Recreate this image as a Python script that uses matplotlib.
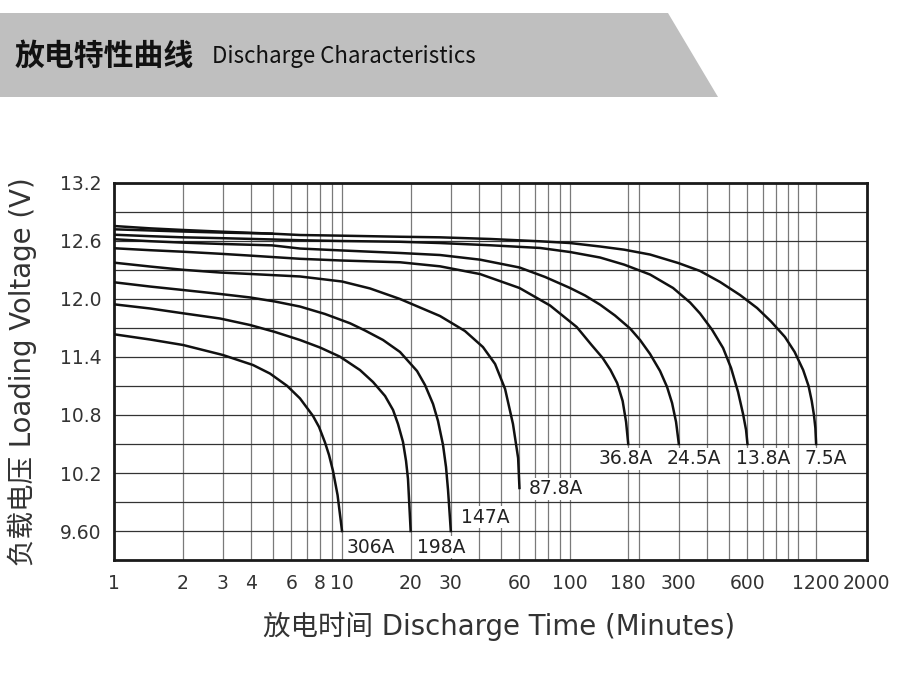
import matplotlib
matplotlib.use("Agg")
import matplotlib.pyplot as plt
from matplotlib.patches import Polygon
from matplotlib.ticker import NullFormatter

# ---------------- text ----------------
title_cn = "放电特性曲线"
title_en = "Discharge Characteristics"
x_label = "放电时间 Discharge Time (Minutes)"
y_label = "负载电压 Loading Voltage (V)"

# ---------------- axes ticks / grid ----------------
x_tick_values = [1, 2, 3, 4, 6, 8, 10, 20, 30, 60, 100, 180, 300, 600, 1200, 2000]
x_tick_labels = ["1", "2", "3", "4", "6", "8", "10", "20", "30", "60", "100",
                 "180", "300", "600", "1200", "2000"]
x_grid_extra = [5, 7, 9, 40, 50, 70, 80, 90, 200, 400, 500, 700, 800, 900, 1000]
y_tick_values = [9.6, 10.2, 10.8, 11.4, 12.0, 12.6, 13.2]
y_tick_labels = ["9.60", "10.2", "10.8", "11.4", "12.0", "12.6", "13.2"]
y_grid_extra = [9.9, 10.5, 11.1, 11.7, 12.3, 12.9]

# ---------------- discharge curves (time in minutes, voltage in V) ----------------
t_306 = [1, 1.438, 2.01, 3.0, 4.07, 4.83, 5.74, 6.54, 7.46, 7.93, 8.42, 8.77, 9.13, 9.56, 10]
v_306 = [11.635, 11.581, 11.524, 11.421, 11.317, 11.229, 11.102, 10.972, 10.79, 10.676,
         10.516, 10.386, 10.221, 9.972, 9.60]

t_198 = [1, 1.438, 2.01, 2.92, 3.95, 5.08, 6.54, 8.01, 9.80, 11.99, 13.68, 15.44, 16.74,
         17.6, 18.51, 19.09, 19.47, 20]
v_198 = [11.945, 11.902, 11.852, 11.798, 11.731, 11.659, 11.576, 11.498, 11.403, 11.265,
         11.141, 10.997, 10.852, 10.707, 10.521, 10.324, 10.138, 9.60]

t_147 = [1, 1.438, 2.01, 2.92, 3.95, 5.08, 6.54, 8.42, 10.84, 12.62, 15.13, 17.96, 21.33,
         23.12, 25.07, 26.36, 27.73, 28.58, 29.17, 30]
v_147 = [12.173, 12.129, 12.093, 12.052, 12.016, 11.974, 11.922, 11.845, 11.749, 11.674,
         11.576, 11.452, 11.255, 11.11, 10.914, 10.738, 10.49, 10.262, 10.024, 9.60]

t_878 = [1, 1.438, 2.01, 2.92, 3.95, 6.54, 10, 13.27, 17.96, 26.9, 34.6, 41.5, 46.9, 51.9,
         56.2, 59.2, 60]
v_878 = [12.376, 12.336, 12.302, 12.274, 12.259, 12.233, 12.181, 12.109, 12.00, 11.824,
         11.669, 11.503, 11.328, 11.069, 10.707, 10.355, 10.045]

t_368 = [1, 1.438, 2.01, 2.92, 3.95, 6.54, 10, 17.96, 26.9, 40.3, 60, 81.7, 107, 124.3,
         139, 150.4, 160.9, 170.1, 176.1, 180]
v_368 = [12.525, 12.505, 12.489, 12.468, 12.449, 12.416, 12.398, 12.38, 12.338, 12.258,
         12.114, 11.933, 11.71, 11.524, 11.39, 11.266, 11.131, 10.945, 10.728, 10.50]

t_245 = [1, 1.438, 2.01, 3.0, 4.93, 6.54, 10, 17.96, 26.9, 40.3, 60, 77.7, 100, 116.4,
         135.5, 157.5, 183.4, 202.8, 224.4, 248.2, 266.4, 280.2, 291.7, 300]
v_245 = [12.618, 12.598, 12.583, 12.569, 12.555, 12.522, 12.502, 12.476, 12.455, 12.407,
         12.326, 12.228, 12.114, 12.036, 11.941, 11.829, 11.695, 11.576, 11.431, 11.255,
         11.09, 10.924, 10.728, 10.50]

t_138 = [1, 1.438, 2.01, 3.0, 4.93, 6.54, 10, 17.96, 26.9, 44.6, 73.9, 100, 135.5, 173,
         224.4, 283, 336, 371.7, 419.6, 469, 508.4, 545.6, 573.9, 591.5, 600]
v_138 = [12.665, 12.65, 12.638, 12.629, 12.616, 12.608, 12.60, 12.592, 12.579, 12.556,
         12.528, 12.486, 12.429, 12.355, 12.253, 12.114, 11.964, 11.85, 11.682, 11.493,
         11.286, 11.038, 10.81, 10.645, 10.50]

t_75 = [1, 1.438, 2.01, 3.0, 4.93, 6.54, 10, 17.96, 26.9, 44.6, 73.9, 100, 135.5, 173,
        224.4, 298.5, 371.7, 454.9, 556.7, 661, 761.4, 876, 966, 1053, 1112, 1148, 1174,
        1191, 1200]
v_75 = [12.755, 12.731, 12.714, 12.696, 12.676, 12.662, 12.655, 12.644, 12.638, 12.621,
        12.597, 12.579, 12.543, 12.51, 12.46, 12.372, 12.29, 12.176, 12.041, 11.907,
        11.767, 11.607, 11.452, 11.265, 11.10, 10.945, 10.80, 10.666, 10.50]

t_extra = [1, 1.438, 2.01, 3.0, 4.93]
v_extra = [12.721, 12.709, 12.698, 12.687, 12.676]

curve_labels = ["306A", "198A", "147A", "87.8A", "36.8A", "24.5A", "13.8A", "7.5A", ""]
curve_t = [t_306, t_198, t_147, t_878, t_368, t_245, t_138, t_75, t_extra]
curve_v = [v_306, v_198, v_147, v_878, v_368, v_245, v_138, v_75, v_extra]

# label placement relative to curve end (pixels), alignment
label_offsets = [(5, -16, "left"), (6, -16, "left"), (10, 14, "left"), (9, -1, "left"),
                 (-2, -15, "center"), (15, -15, "center"), (16, -15, "center"),
                 (10, -15, "center"), None]

# ---------------- figure ----------------
W, H = 900, 692
fig = plt.figure(figsize=(W / 100, H / 100), dpi=100)
fig.patch.set_facecolor("white")

# header band
band = Polygon([(0, 1 - 13 / H), (668 / W, 1 - 13 / H), (718 / W, 1 - 97 / H), (0, 1 - 97 / H)],
               closed=True, transform=fig.transFigure, facecolor="#bfbfbf", edgecolor="none")
fig.patches.append(band)
fig.text(15 / W, 1 - 56 / H, title_cn, fontsize=21.5, fontweight="bold", color="#111111",
         family=["Noto Sans CJK SC", "DejaVu Sans"], va="center", ha="left")
fig.text(212 / W, 1 - 57 / H, title_en, fontsize=16.1, color="#111111",
         family=["Noto Sans CJK SC", "DejaVu Sans"], va="center", ha="left")

ax = fig.add_axes([114 / W, 1 - 560 / H, (866.7 - 114) / W, (560 - 183) / H])
ax.set_xscale("log")
ax.set_xlim(1, 2000)
ax.set_ylim(9.3, 13.2)

ax.set_xticks(x_tick_values)
ax.set_xticklabels(x_tick_labels)
ax.set_xticks(x_grid_extra, minor=True)
ax.xaxis.set_minor_formatter(NullFormatter())
ax.set_yticks(y_tick_values)
ax.set_yticklabels(y_tick_labels)
ax.set_yticks(y_grid_extra, minor=True)

ax.tick_params(axis="both", which="both", length=0)
ax.tick_params(axis="x", which="major", pad=10, labelsize=13.5, labelcolor="#333333")
ax.tick_params(axis="y", which="major", pad=9, labelsize=13.5, labelcolor="#333333")
for lab in ax.get_xticklabels() + ax.get_yticklabels():
    lab.set_family("DejaVu Sans")

ax.grid(axis="x", which="both", color="#7a7a7a", linewidth=0.9)
ax.grid(axis="y", which="both", color="#333333", linewidth=0.9)
ax.set_axisbelow(True)
for s in ax.spines.values():
    s.set_linewidth(2.0)
    s.set_color("#1a1a1a")

for t, v, lab, off in zip(curve_t, curve_v, curve_labels, label_offsets):
    ax.plot(t, v, color="#111111", linewidth=1.8, solid_joinstyle="round", zorder=3)
    if lab and off is not None:
        dx, dy, ha = off
        ax.annotate(lab, xy=(t[-1], v[-1]), xytext=(dx, dy), textcoords="offset pixels",
                    ha=ha, va="center", fontsize=13.5, color="#222222", family="DejaVu Sans",
                    bbox=dict(facecolor="white", edgecolor="none", pad=1.0), zorder=4)

ax.set_xlabel(x_label, fontsize=19.8, color="#333333", family=["DejaVu Sans", "Noto Sans CJK SC"])
ax.set_ylabel(y_label, fontsize=19.8, color="#333333", family=["DejaVu Sans", "Noto Sans CJK SC"])
ax.xaxis.set_label_coords(0.512, -0.136)
ax.yaxis.set_label_coords(-0.102, 0.5)

fig.savefig("out.png", dpi=100, facecolor="white")
